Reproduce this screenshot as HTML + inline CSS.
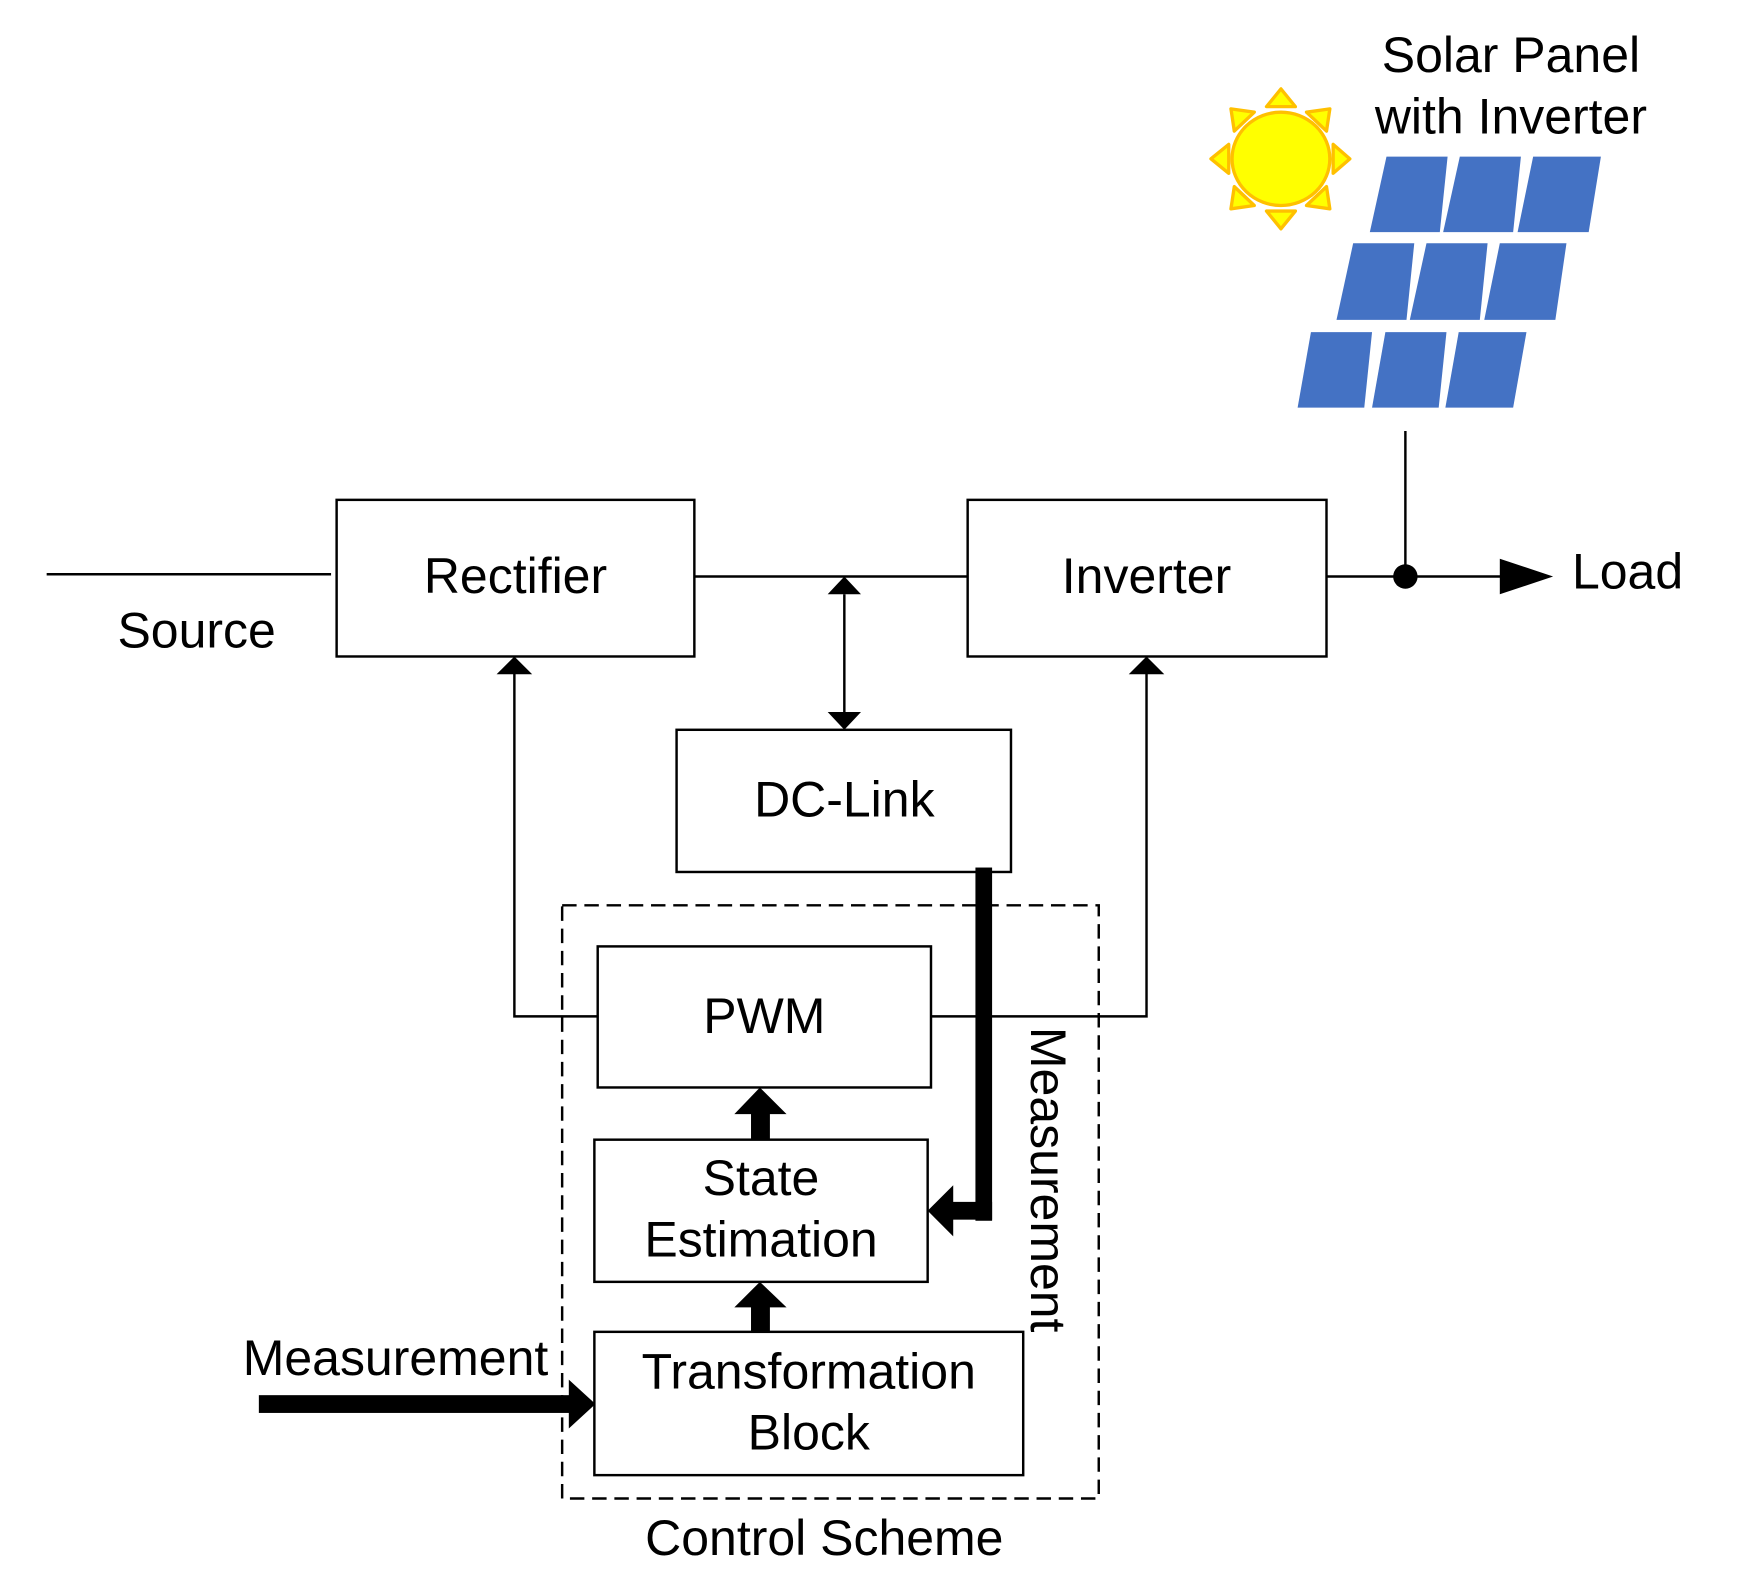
<!DOCTYPE html>
<html><head><meta charset="utf-8"><style>html,body{margin:0;padding:0;background:#fff}svg{display:block}</style></head>
<body>
<svg width="1742" height="1574" viewBox="0 0 1568 1417" preserveAspectRatio="none" xmlns="http://www.w3.org/2000/svg" font-family="Liberation Sans, Arial, sans-serif" font-size="45">
<rect width="1600" height="1450" fill="#fff"/>
<g fill="none" stroke="#000" stroke-width="2.2">
<rect x="303" y="450" width="322" height="141"/>
<rect x="871" y="450" width="323" height="141"/>
<rect x="609" y="657" width="301" height="128"/>
<rect x="538" y="852" width="300" height="127"/>
<rect x="535" y="1026" width="300" height="128"/>
<rect x="535" y="1199" width="386" height="129"/>
<rect x="506" y="815" width="483" height="534" stroke-dasharray="13,7"/>
<line x1="42" y1="517" x2="298" y2="517"/>
<line x1="625" y1="519" x2="871" y2="519"/>
<line x1="760" y1="535" x2="760" y2="641"/>
<line x1="1194" y1="519" x2="1352" y2="519"/>
<line x1="1265" y1="388" x2="1265" y2="519"/>
<polyline points="538,915 463,915 463,606"/>
<polyline points="838,915 1032,915 1032,606"/>
</g>
<g fill="#000">
<polygon points="760,519 745,535 775,535"/>
<polygon points="760,657 745,641 775,641"/>
<polygon points="463,591 447,607 479,607"/>
<polygon points="1032,591 1016,607 1048,607"/>
<polygon points="1398,519 1350,503 1350,535"/>
<circle cx="1265" cy="519" r="11"/>
<rect x="676" y="1002" width="17" height="24"/>
<polygon points="684,979 661,1003 708,1003"/>
<rect x="676" y="1176" width="17" height="23"/>
<polygon points="684,1154 661,1177 708,1177"/>
<rect x="878" y="781" width="15" height="318"/>
<rect x="857" y="1082" width="36" height="16"/>
<polygon points="835,1090 858,1067 858,1113"/>
<rect x="233" y="1256" width="281" height="16"/>
<polygon points="536,1264 512,1242 512,1286"/>
</g>
<g fill="#000" text-anchor="middle">
<text x="464" y="534">Rectifier</text>
<text x="1032" y="534">Inverter</text>
<text x="760" y="735">DC-Link</text>
<text x="688" y="930">PWM</text>
<text x="685" y="1076">State</text>
<text x="685" y="1131">Estimation</text>
<text x="728" y="1250">Transformation</text>
<text x="728" y="1305">Block</text>
<text x="742" y="1400">Control Scheme</text>
<text x="177" y="583">Source</text>
<text x="1360" y="65">Solar Panel</text>
<text x="1360" y="120">with Inverter</text>
<text x="1465" y="530">Load</text>
<text x="356" y="1238">Measurement</text>
<text transform="translate(928,1062) rotate(90)" x="0" y="0">Measurement</text>
</g>
<g fill="#FFFF00" stroke="#FFC000" stroke-width="3" stroke-linejoin="round">
<polygon points="1153,80 1140,96 1166,96"/>
<polygon points="1153,206 1140,190 1166,190"/>
<polygon points="1090,143 1106,130 1106,156"/>
<polygon points="1215,143 1200,130 1200,156"/>
<polygon points="1108,98 1129,101 1111,118"/>
<polygon points="1197,98 1176,101 1194,118"/>
<polygon points="1108,188 1129,185 1111,168"/>
<polygon points="1197,188 1176,185 1194,168"/>
<ellipse cx="1153" cy="143" rx="44" ry="42"/>
</g>
<g fill="#4472C4">
<polygon points="1248,141 1303,141 1296,209 1233,209"/>
<polygon points="1314,141 1369,141 1362,209 1299,209"/>
<polygon points="1380,141 1441,141 1430,209 1366,209"/>
<polygon points="1218,219 1273,219 1266,288 1203,288"/>
<polygon points="1284,219 1339,219 1332,288 1269,288"/>
<polygon points="1350,219 1410,219 1400,288 1336,288"/>
<polygon points="1180,299 1235,299 1228,367 1168,367"/>
<polygon points="1247,299 1302,299 1295,367 1235,367"/>
<polygon points="1313,299 1374,299 1362,367 1301,367"/>
</g>
</svg>
</body></html>
